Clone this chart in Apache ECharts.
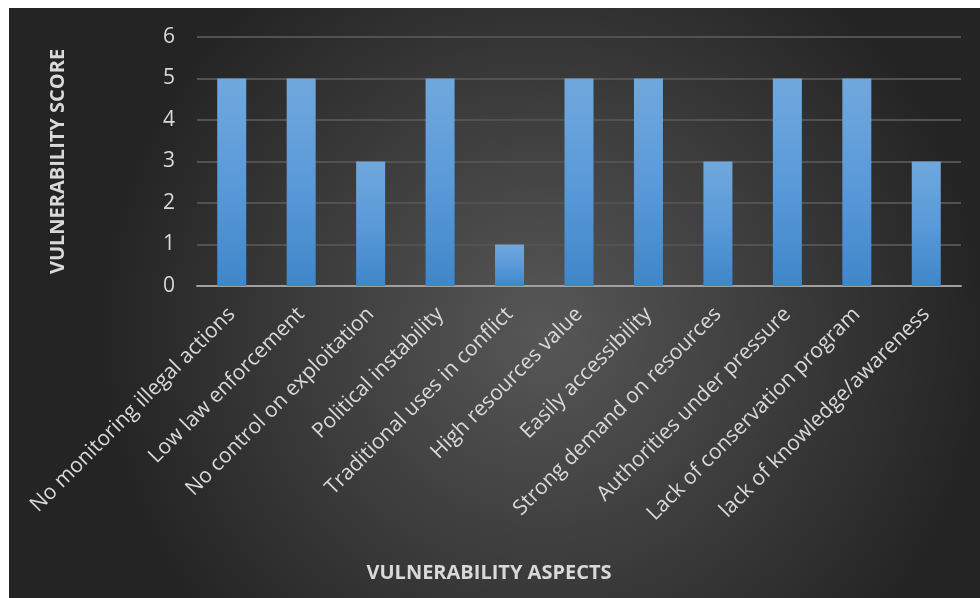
<!DOCTYPE html>
<html lang="en">
<head>
    <meta charset="UTF-8">
    <title>Vulnerability score</title>
    <script src="https://cdn.jsdelivr.net/npm/echarts@6/dist/echarts.min.js"></script>
    <style>
        body { margin: 0; background: #fff; }
        #main { position: absolute; left: 9px; top: 8px; width: 971px; height: 590px; }
    </style>
</head>
<body>
<div id="main"></div>
<script>
    // categories and scores
    var aspects = ['No monitoring illegal actions', 'Low law enforcement', 'No control on exploitation',
        'Political instability', 'Traditional uses in conflict', 'High resources value',
        'Easily accessibility', 'Strong demand on resources', 'Authorities under pressure',
        'Lack of conservation program', 'lack of knowledge/awareness'];
    var scores = [5, 5, 3, 5, 1, 5, 5, 3, 5, 5, 3];
    var yTicks = [0, 1, 2, 3, 4, 5, 6];

    var myChart = echarts.init(document.getElementById('main'));
    var font = '"Open Sans", "DejaVu Sans", sans-serif';
    var option = {
        backgroundColor: {
            type: 'radial', x: 0.55, y: 0.55, r: 0.75,
            colorStops: [{offset: 0, color: '#575757'}, {offset: 1, color: '#242424'}]
        },
        grid: {left: 188, right: 19, top: 29, bottom: 312},
        xAxis: {
            type: 'category',
            data: aspects,
            name: 'VULNERABILITY ASPECTS',
            nameLocation: 'middle',
            nameGap: 277,
            nameTextStyle: {color: '#d9d9d9', fontSize: 20, fontWeight: 'bold', fontFamily: font,
                padding: [0, 180, 0, 0]},
            axisLine: {lineStyle: {color: '#a0a0a0', width: 2}},
            axisTick: {show: false},
            axisLabel: {rotate: 45, color: '#d9d9d9', fontSize: 21, fontFamily: font, margin: 25, interval: 0}
        },
        yAxis: {
            type: 'value',
            min: yTicks[0],
            max: yTicks[yTicks.length - 1],
            interval: 1,
            name: 'VULNERABILITY SCORE',
            nameLocation: 'middle',
            nameGap: 129,
            nameTextStyle: {color: '#d9d9d9', fontSize: 20, fontWeight: 'bold', fontFamily: font},
            axisLine: {show: false},
            axisTick: {show: false},
            axisLabel: {color: '#d9d9d9', fontSize: 21, fontFamily: font, margin: 22},
            splitLine: {lineStyle: {color: '#525252', width: 2}}
        },
        series: [{
            type: 'bar',
            data: scores,
            barWidth: 29,
            itemStyle: {
                color: {
                    type: 'linear', x: 0, y: 0, x2: 0, y2: 1,
                    colorStops: [{offset: 0, color: '#70a8dd'}, {offset: 0.5, color: '#5a9ad9'}, {offset: 1, color: '#3f87c9'}]
                },
                shadowColor: 'rgba(0,0,0,0.55)',
                shadowBlur: 8,
                shadowOffsetX: 2,
                shadowOffsetY: 1
            }
        }]
    };
    myChart.setOption(option);
</script>
</body>
</html>
